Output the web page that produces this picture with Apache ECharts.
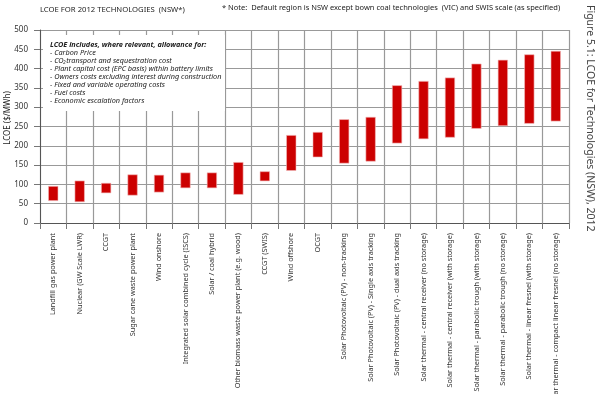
<!DOCTYPE html>
<html><head><meta charset="utf-8">
<script src="https://cdn.jsdelivr.net/npm/echarts@6/dist/echarts.min.js"></script>
<style>html,body{margin:0;padding:0;background:#fff}#c{width:600px;height:394px}</style>
</head><body><div id="c"></div>
<script>
const categories = [
  "Landfill gas power plant",
  "Nuclear (GW Scale LWR)",
  "CCGT",
  "Sugar cane waste power plant",
  "Wind onshore",
  "Integrated solar combined cycle (ISCS)",
  "Solar / coal hybrid",
  "Other biomass waste power plant (e.g. wood)",
  "CCGT (SWIS)",
  "Wind offshore",
  "OCGT",
  "Solar Photovoltaic (PV) - non-tracking",
  "Solar Photovoltaic (PV) - Single axis tracking",
  "Solar Photovoltaic (PV) - dual axis tracking",
  "Solar thermal - central receiver (no storage)",
  "Solar thermal - central receiver (with storage)",
  "Solar thermal - parabolic trough (with storage)",
  "Solar thermal - parabolic trough (no storage)",
  "Solar thermal - linear fresnel (with storage)",
  "Solar thermal - compact linear fresnel (no storage)"
];
const lowValues  = [58, 55, 78, 72, 80, 91, 91, 74, 109, 136, 171, 155, 160, 207, 218, 222, 245, 252, 258, 264];
const highValues = [95, 109, 103, 125, 124, 130, 130, 157, 133, 227, 235, 268, 274, 356, 367, 376, 412, 422, 436, 445];
const yTicks = {min: 0, max: 500, interval: 50};
const noteLines = [
  "LCOE includes, where relevant, allowance for:",
  "- Carbon Price",
  "- CO\u2082transport and sequestration cost",
  "- Plant capital cost (EPC basis) within battery limits",
  "- Owners costs excluding interest during construction",
  "- Fixed and variable operating costs",
  "- Fuel costs",
  "- Economic escalation factors"
];

const FONT = "Noto Sans";
const chart = echarts.init(document.getElementById('c'), null, {renderer: 'canvas'});
const data = categories.map((c, i) => [i, lowValues[i], highValues[i]]);

const graphics = [
  {type: 'text', left: 40, top: 6, style: {text: "LCOE FOR 2012 TECHNOLOGIES  (NSW*)", font: "7.7px " + FONT, fill: '#222'}},
  {type: 'text', left: 222, top: 4, style: {text: "* Note:  Default region is NSW except bown coal technologies  (VIC) and SWIS scale (as specified)", font: "7.5px " + FONT, fill: '#222'}},
  {type: 'text', x: 590, y: 5, rotation: -Math.PI / 2, style: {text: "Figure 5.1: LCOE for Technologies (NSW), 2012", font: "10.5px " + FONT, fill: '#444', align: 'left', verticalAlign: 'middle'}},
  {type: 'text', x: 8, y: 118, rotation: Math.PI / 2, style: {text: "LCOE ($/MWh)", font: "8px " + FONT, fill: '#222', align: 'center', verticalAlign: 'middle'}},
  {type: 'rect', shape: {x: 43, y: 35, width: 182, height: 76}, style: {fill: '#fff'}, z: 50}
];
noteLines.forEach((t, i) => {
  graphics.push({type: 'text', x: 50, y: 45 + i * 8, z: 51, style: {
    text: t, font: (i === 0 ? 'italic bold ' : 'italic ') + '7.3px ' + FONT, fill: '#222', verticalAlign: 'middle'}});
});

chart.setOption({
  animation: false,
  textStyle: {fontFamily: FONT},
  grid: {left: 40, right: 31, top: 30, bottom: 171, containLabel: false, outerBoundsMode: 'none'},
  xAxis: {
    type: 'category', data: categories,
    axisLine: {lineStyle: {color: '#555'}},
    axisTick: {show: true, length: 6, interval: 0, lineStyle: {color: '#777'}},
    axisLabel: {rotate: 90, interval: 0, fontSize: 7.3, color: '#333', margin: 10, fontFamily: FONT},
    splitLine: {show: true, interval: 0, lineStyle: {color: '#999', width: 1.2}}
  },
  yAxis: {
    type: 'value', min: yTicks.min, max: yTicks.max, interval: yTicks.interval,
    axisLine: {show: true, lineStyle: {color: '#555'}},
    axisTick: {show: true, length: 6, lineStyle: {color: '#777'}},
    axisLabel: {fontSize: 8, color: '#333', margin: 12, fontFamily: FONT},
    splitLine: {lineStyle: {color: '#999', width: 1.2}}
  },
  series: [{
    type: 'custom',
    data: data,
    encode: {x: 0, y: [1, 2]},
    renderItem: function (params, api) {
      const lo = api.coord([api.value(0), api.value(1)]);
      const hi = api.coord([api.value(0), api.value(2)]);
      const w = 9.5;
      return {type: 'rect', shape: {x: lo[0] - w / 2, y: hi[1], width: w, height: lo[1] - hi[1]},
        style: {fill: '#cc0000', stroke: '#f2b8b8', lineWidth: 0.6}};
    }
  }],
  graphic: graphics
});
</script></body></html>
